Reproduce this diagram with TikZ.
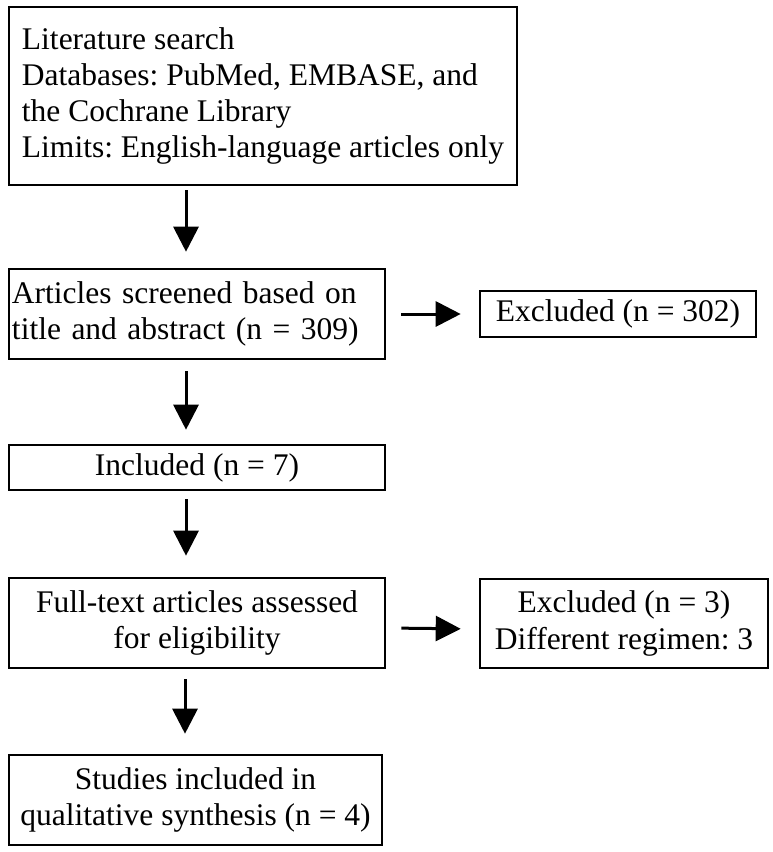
\documentclass[tikz,border=0pt]{standalone}
\usepackage{fontspec}
\setmainfont{Liberation Serif}
\usetikzlibrary{arrows.meta}
\tikzset{
  x=1pt,y=-1pt,
  box/.style={draw=black, line width=2.6pt, inner ysep=0pt, inner xsep=1pt,
    font=\fontsize{31.5}{36.3}\selectfont\frenchspacing, align=center},
  arr/.style={line width=3pt, -{Triangle[length=25pt,width=25pt]}}
}
\begin{document}
\begin{tikzpicture}
\useasboundingbox[fill=white] (0,0) rectangle (773,852);
\node[box, minimum width=508pt, minimum height=178pt, inner xsep=8pt, align=left] (b1) at (263,96)
  {Literature search\\Databases: PubMed, EMBASE, and\\the Cochrane Library\\Limits: English-language articles only};
\node[box, minimum width=376pt, minimum height=90pt, inner xsep=3pt, text width=370pt, align=left] (b2) at (197,314)
  {\makebox[366pt][s]{Articles screened based on}\\title and abstract (n = 309)};
\node[box, minimum width=276pt, minimum height=46pt] (e1) at (618,314) {Excluded (n = 302)};
\node[box, minimum width=376pt, minimum height=45pt] (b3) at (197,467.5) {Included (n = 7)};
\node[box, minimum width=376pt, minimum height=90pt] (b4) at (197,623) {Full-text articles assessed\\for eligibility};
\node[box, minimum width=288pt, minimum height=89pt] (e2) at (624,623.5) {Excluded (n = 3)\\Different regimen: 3};
\node[box, minimum width=373pt, minimum height=90pt] (b5) at (195.5,800) {Studies included in\\qualitative synthesis (n = 4)};
\draw[arr, shorten <=4pt, shorten >=16pt] ([xshift=-77pt]b1.south) -- ([xshift=-11pt]b2.north);
\draw[arr, shorten <=11pt, shorten >=14pt] ([xshift=-11pt]b2.south) -- ([xshift=-11pt]b3.north);
\draw[arr, shorten <=8pt, shorten >=21pt] ([xshift=-11pt]b3.south) -- ([xshift=-11pt]b4.north);
\draw[arr, shorten <=10pt, shorten >=20pt] ([xshift=-12pt]b4.south) -- ([xshift=-10.5pt]b5.north);
\draw[arr, shorten <=15pt, shorten >=18pt] (b2.east) -- (e1.west);
\draw[arr, shorten <=15pt, shorten >=18pt] ([yshift=-5pt]b4.east) -- ([yshift=-5.5pt]e2.west);
\end{tikzpicture}
\end{document}
